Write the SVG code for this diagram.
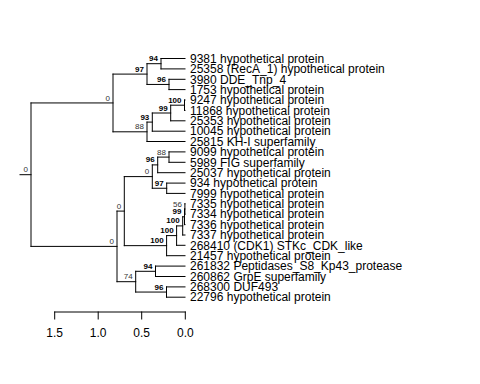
<svg xmlns="http://www.w3.org/2000/svg" width="480" height="384" viewBox="0 0 480 384">
<style>
.e{stroke:#000;stroke-width:1;fill:none;stroke-linecap:square}
.t{font-family:"Liberation Sans",Arial,sans-serif;font-size:12px;fill:#000}
.b{font-family:"Liberation Sans",Arial,sans-serif;font-size:8px;font-weight:bold;fill:#000;text-anchor:end}
.p{font-family:"Liberation Sans",Arial,sans-serif;font-size:8px;fill:#333;text-anchor:end}
.ax{font-family:"Liberation Sans",Arial,sans-serif;font-size:12px;fill:#000;text-anchor:middle}
</style>
<rect width="480" height="384" fill="#fff"/>
<g id="connectors">
<path class="e" d="M20 174.7H31M31 102.95V246.4
M31 102.95H113M113 74.1V131.8
M113 74.1H147M147 63.7V84.45
M147 63.7H161M161 58.5V68.9M161 58.5H185M161 68.9H185
M147 84.45H169M169 79.3V89.6M169 79.3H185M169 89.6H185
M113 131.8H147M147 122.1V141.5
M147 122.1H152.3M152.3 113V131.2
M152.3 113H170.7M170.7 105.2V120.8
M170.7 105.2H184.5M184.5 100V110.4M184.5 100H185M184.5 110.4H185
M170.7 120.8H185M152.3 131.2H185M147 141.5H185
M31 246.4H117M117 211.1V281.7
M117 211.1H124.3M124.3 176.6V245.65
M124.3 176.6H152.3M152.3 164.9V188.25
M152.3 164.9H157.7M157.7 157.1V172.7
M157.7 157.1H169M169 151.9V162.3M169 151.9H185M169 162.3H185
M157.7 172.7H185
M152.3 188.25H166.7M166.7 183.1V193.4M166.7 183.1H185M166.7 193.4H185
M124.3 245.65H166.6M166.6 235.6V255.7
M166.6 235.6H176.6M176.6 225.9V245.3
M176.6 225.9H182.7M182.7 216.8V235
M182.7 216.8H184.5M184.5 209V224.6
M184.5 209H184.9M184.9 203.8V214.2M184.9 203.8H185M184.9 214.2H185
M184.5 224.6H185M182.7 235H185M176.6 245.3H185M166.6 255.7H185
M117 281.7H135.7M135.7 271.3V292.05
M135.7 271.3H155.5M155.5 266.1V276.5M155.5 266.1H185M155.5 276.5H185
M135.7 292.05H166.5M166.5 286.9V297.2M166.5 286.9H185M166.5 297.2H185"/>
</g>
<g id="internal-nodes">
<g id="n-root"><text class="p" x="28" y="172.2">0</text></g>
<g id="n-up0"><text class="p" x="110" y="100.5">0</text></g>
<g id="n-97a"><text class="b" x="144" y="71.6">97</text></g>
<g id="n-94a"><text class="b" x="158" y="61.2">94</text></g>
<g id="n-96a"><text class="b" x="166" y="82">96</text></g>
<g id="n-88a"><text class="p" x="144" y="129.3">88</text></g>
<g id="n-93a"><text class="b" x="149.3" y="119.6">93</text></g>
<g id="n-99a"><text class="b" x="167.7" y="110.5">99</text></g>
<g id="n-100a"><text class="b" x="181.5" y="102.7">100</text></g>
<g id="n-low0"><text class="p" x="114" y="243.9">0</text></g>
<g id="n-0b"><text class="p" x="121.3" y="208.6">0</text></g>
<g id="n-0c"><text class="p" x="149.3" y="174.1">0</text></g>
<g id="n-96b"><text class="b" x="154.7" y="162.4">96</text></g>
<g id="n-88b"><text class="p" x="166" y="154.6">88</text></g>
<g id="n-97b"><text class="b" x="163.7" y="185.75">97</text></g>
<g id="n-100d"><text class="b" x="163.6" y="243.15">100</text></g>
<g id="n-100c"><text class="b" x="173.6" y="233.1">100</text></g>
<g id="n-100b"><text class="b" x="179.7" y="223.4">100</text></g>
<g id="n-99b"><text class="b" x="181.5" y="214.3">99</text></g>
<g id="n-56"><text class="p" x="181.9" y="206.5">56</text></g>
<g id="n-74"><text class="p" x="132.7" y="279.2">74</text></g>
<g id="n-94b"><text class="b" x="152.5" y="268.8">94</text></g>
<g id="n-96c"><text class="b" x="163.5" y="289.55">96</text></g>
</g>
<g id="leaves">
<g id="l1"><text class="t" x="190" y="62.7">9381 hypothetical protein</text></g>
<g id="l2"><text class="t" x="190" y="73.1">25358 (RecA_1) hypothetical protein</text></g>
<g id="l3"><text class="t" x="190" y="83.5">3980 DDE_Tnp_4</text></g>
<g id="l4"><text class="t" x="190" y="93.8">1753 hypothetical protein</text></g>
<g id="l5"><text class="t" x="190" y="104.2">9247 hypothetical protein</text></g>
<g id="l6"><text class="t" x="190" y="114.6">11868 hypothetical protein</text></g>
<g id="l7"><text class="t" x="190" y="125">25353 hypothetical protein</text></g>
<g id="l8"><text class="t" x="190" y="135.4">10045 hypothetical protein</text></g>
<g id="l9"><text class="t" x="190" y="145.7">25815 KH-I superfamily</text></g>
<g id="l10"><text class="t" x="190" y="156.1">9099 hypothetical protein</text></g>
<g id="l11"><text class="t" x="190" y="166.5">5989 FIG superfamily</text></g>
<g id="l12"><text class="t" x="190" y="176.9">25037 hypothetical protein</text></g>
<g id="l13"><text class="t" x="190" y="187.3">934 hypothetical protein</text></g>
<g id="l14"><text class="t" x="190" y="197.6">7999 hypothetical protein</text></g>
<g id="l15"><text class="t" x="190" y="208">7335 hypothetical protein</text></g>
<g id="l16"><text class="t" x="190" y="218.4">7334 hypothetical protein</text></g>
<g id="l17"><text class="t" x="190" y="228.8">7336 hypothetical protein</text></g>
<g id="l18"><text class="t" x="190" y="239.2">7337 hypothetical protein</text></g>
<g id="l19"><text class="t" x="190" y="249.5">268410 (CDK1) STKc_CDK_like</text></g>
<g id="l20"><text class="t" x="190" y="259.9">21457 hypothetical protein</text></g>
<g id="l21"><text class="t" x="190" y="270.3">261832 Peptidases_S8_Kp43_protease</text></g>
<g id="l22"><text class="t" x="190" y="280.7">260862 GrpE superfamily</text></g>
<g id="l23"><text class="t" x="190" y="291.1">268300 DUF493</text></g>
<g id="l24"><text class="t" x="190" y="301.4">22796 hypothetical protein</text></g>
</g>
<g id="axis">
<path class="e" d="M54.7 312H185.3M54.7 312V319M98.2 312V319M141.7 312V319M185.3 312V319"/>
<text class="ax" x="54.7" y="337">1.5</text>
<text class="ax" x="98.2" y="337">1.0</text>
<text class="ax" x="141.7" y="337">0.5</text>
<text class="ax" x="185.3" y="337">0.0</text>
</g>
</svg>
